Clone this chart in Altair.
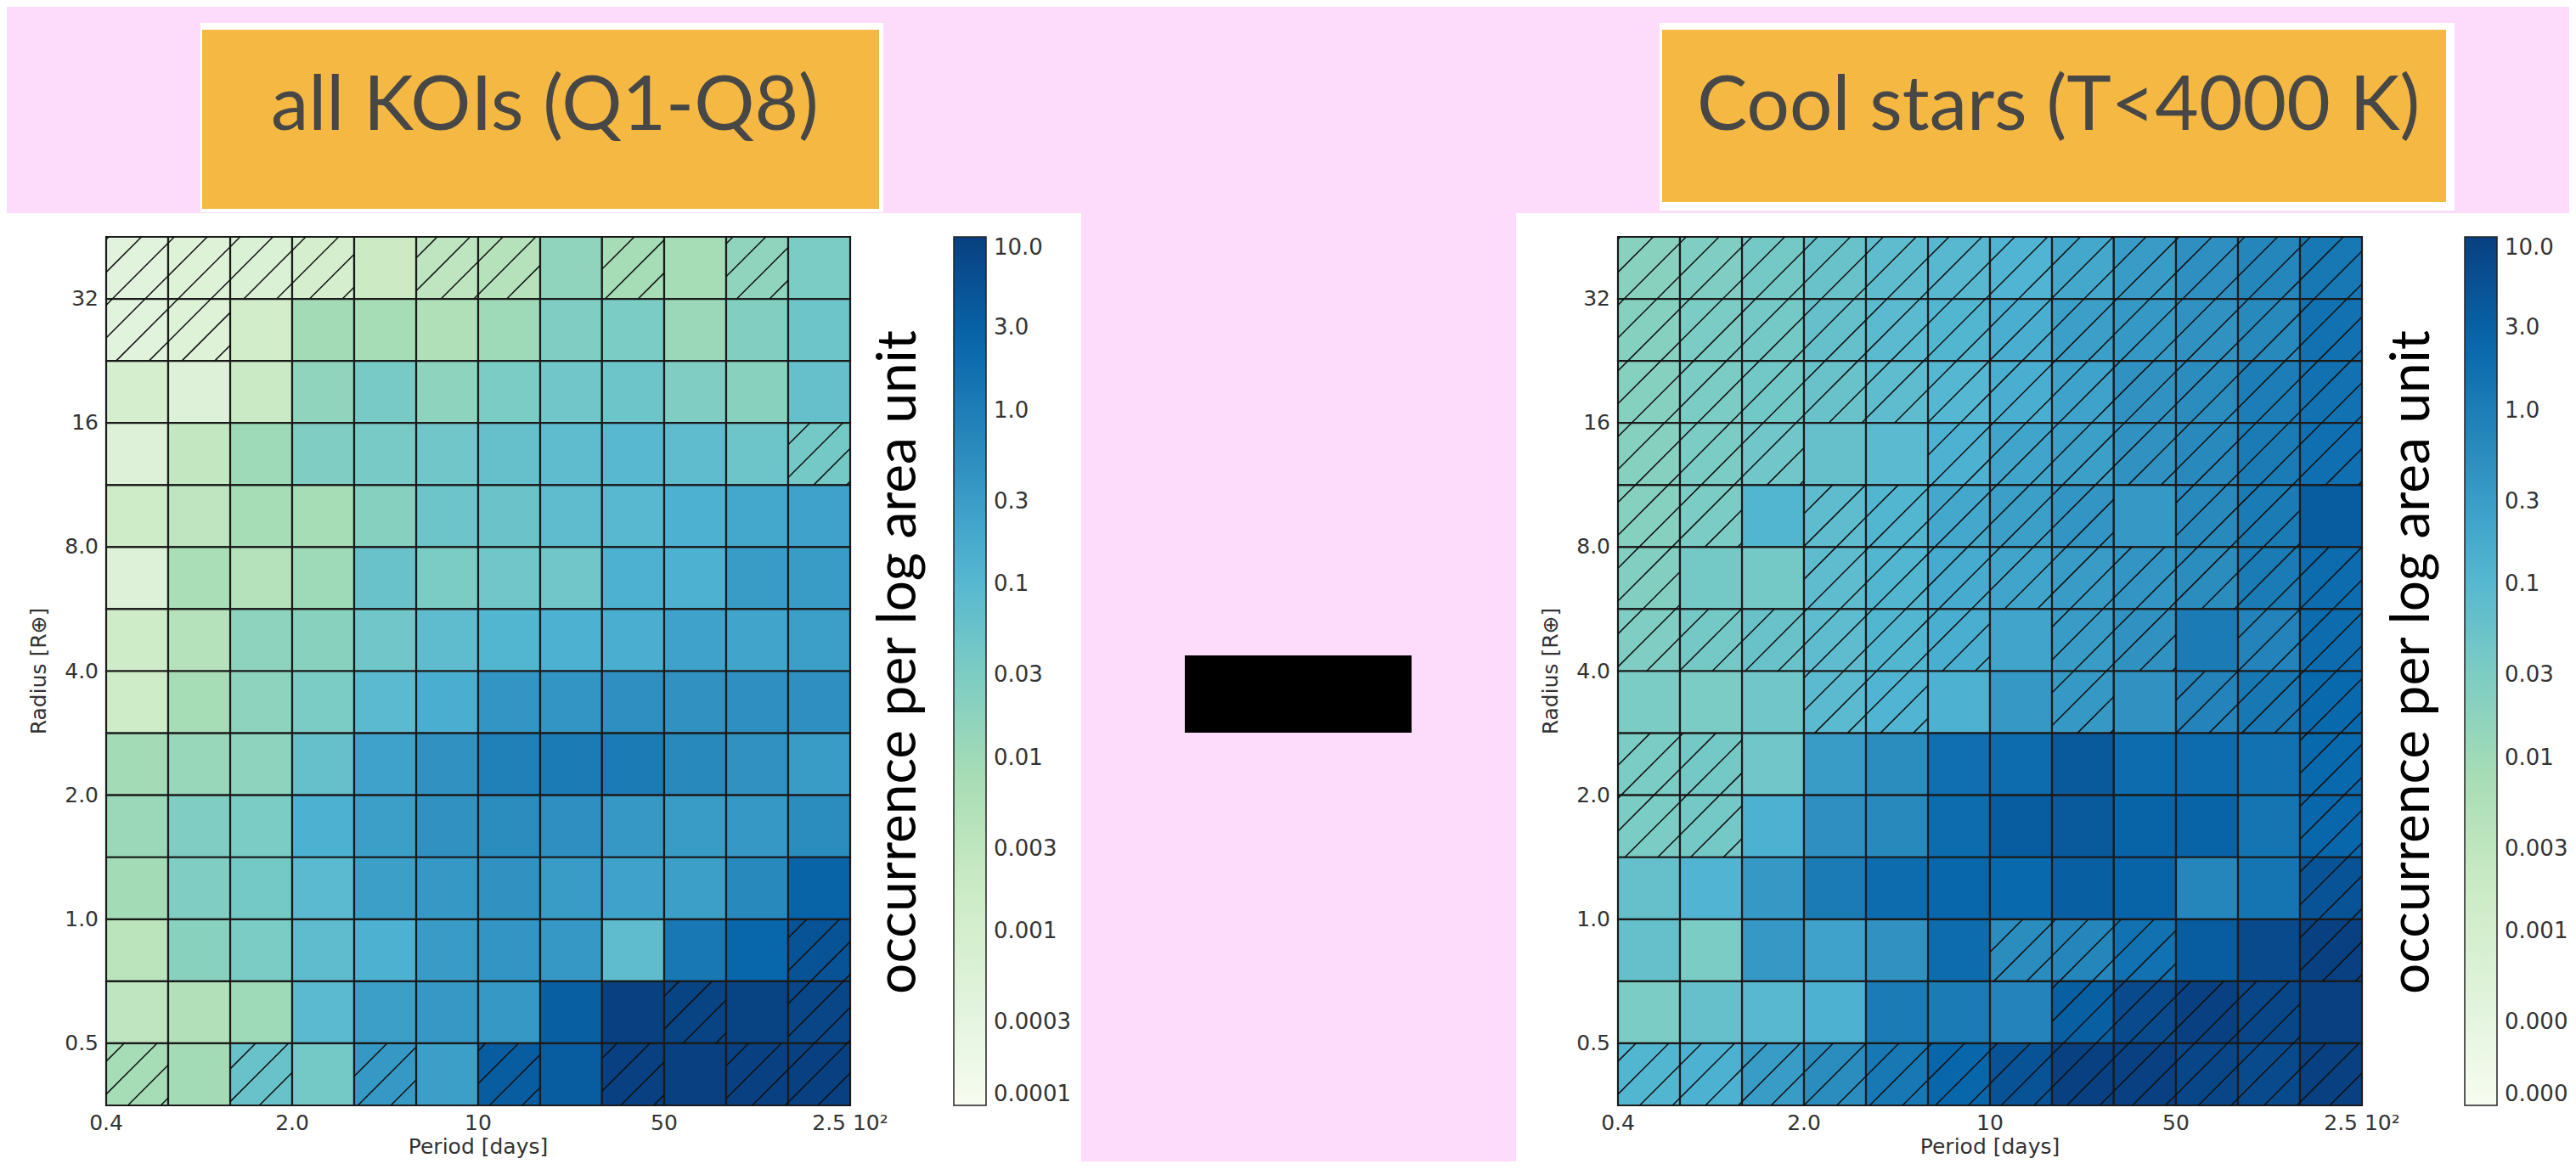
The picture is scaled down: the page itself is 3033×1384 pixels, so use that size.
import altair as alt
import numpy as np
import pandas as pd

# ---------------- data ----------------
TITLES = ["all KOIs (Q1-Q8)", "Cool stars (T<4000 K)"]
CBAR_LABEL = "occurrence per log area unit"
X_TITLE = "Period [days]"
Y_TITLE = "Radius [R\u2295]"

# bin edges: period 0.4 .. 250 d (12 bins, 3 per factor 5); radius 0.35 .. 45 (14 bins, 2 per factor 2)
PERIOD_EDGES = [0.4, 0.684, 1.17, 2.0, 3.42, 5.85, 10.0, 17.1, 29.2, 50.0, 85.5, 146.2, 250.0]
RADIUS_EDGES = [0.3536, 0.5, 0.7071, 1.0, 1.414, 2.0, 2.828, 4.0, 5.657, 8.0, 11.31, 16.0, 22.63, 32.0, 45.25]

PERIOD_TICKS = [0.4, 2.0, 10, 50, 250]
PERIOD_TICK_LABELS = ["0.4", "2.0", "10", "50", "2.5 10\u00b2"]
RADIUS_TICKS = [0.5, 1.0, 2.0, 4.0, 8.0, 16, 32]
RADIUS_TICK_LABELS = ["0.5", "1.0", "2.0", "4.0", "8.0", "16", "32"]
CBAR_TICKS = [0.0001, 0.0003, 0.001, 0.003, 0.01, 0.03, 0.1, 0.3, 1.0, 3.0, 10.0]

# log10(occurrence) per cell, rows from top (largest radius) to bottom, columns short -> long period
LEFT_LOG = [
    [-3.4, -3.3, -3.2, -3.0, -2.75, -2.5, -2.35, -1.8, -2.1, -2.1, -1.8, -1.5],
    [-3.4, -3.3, -2.9, -2.05, -2.1, -2.25, -2.0, -1.55, -1.5, -1.95, -1.6, -1.3],
    [-3.0, -3.25, -2.7, -1.8, -1.45, -1.75, -1.5, -1.35, -1.3, -1.55, -1.7, -1.2],
    [-3.25, -2.6, -2.0, -1.55, -1.45, -1.35, -1.2, -1.1, -1.0, -1.1, -1.3, -1.4],
    [-2.85, -2.5, -2.1, -2.1, -1.65, -1.3, -1.28, -1.1, -1.0, -0.85, -0.7, -0.6],
    [-3.25, -2.15, -2.35, -2.0, -1.25, -1.5, -1.35, -1.35, -0.85, -0.85, -0.5, -0.5],
    [-2.85, -2.35, -1.75, -1.7, -1.35, -1.1, -0.95, -0.85, -0.8, -0.6, -0.65, -0.55],
    [-2.85, -2.1, -1.75, -1.5, -1.05, -0.8, -0.4, -0.4, -0.3, -0.35, -0.3, -0.3],
    [-2.05, -1.9, -1.75, -1.2, -0.6, -0.35, -0.05, 0.05, 0.05, -0.2, -0.35, -0.5],
    [-1.95, -1.55, -1.5, -0.85, -0.55, -0.35, -0.25, -0.3, -0.45, -0.5, -0.45, -0.25],
    [-2.05, -1.55, -1.4, -1.05, -0.55, -0.45, -0.35, -0.5, -0.6, -0.55, -0.2, 0.45],
    [-2.45, -1.7, -1.5, -1.1, -0.85, -0.5, -0.4, -0.45, -1.1, 0.1, 0.4, 0.7],
    [-2.5, -2.3, -2.0, -1.05, -0.55, -0.45, -0.45, 0.5, 1.0, 0.95, 0.95, 0.9],
    [-2.1, -2.05, -1.25, -1.4, -0.45, -0.55, 0.55, 0.55, 1.0, 1.0, 1.0, 1.0],
]
LEFT_HATCH = [
    "111101101010", "110000000000", "000000000000", "000000000001",
    "000000000000", "000000000000", "000000000000", "000000000000",
    "000000000000", "000000000000", "000000000000", "000000000001",
    "000000000101", "101010101011",
]

RIGHT_LOG = [
    [-1.7, -1.55, -1.4, -1.25, -1.1, -1.0, -0.9, -0.7, -0.5, -0.3, -0.15, 0.1],
    [-1.65, -1.5, -1.4, -1.2, -1.05, -0.95, -0.8, -0.55, -0.45, -0.35, -0.2, 0.2],
    [-1.65, -1.5, -1.38, -1.25, -1.1, -0.97, -0.8, -0.6, -0.35, -0.25, 0.0, 0.2],
    [-1.65, -1.5, -1.35, -1.2, -1.05, -0.85, -0.65, -0.55, -0.35, -0.2, 0.05, 0.25],
    [-1.65, -1.5, -0.95, -1.1, -0.95, -0.7, -0.55, -0.4, -0.45, -0.2, 0.05, 0.55],
    [-1.6, -1.4, -1.4, -1.1, -0.95, -0.75, -0.65, -0.5, -0.4, -0.25, 0.05, 0.3],
    [-1.55, -1.4, -1.25, -1.1, -0.95, -0.8, -0.65, -0.5, -0.35, 0.05, -0.1, 0.3],
    [-1.5, -1.5, -1.35, -1.05, -0.9, -0.85, -0.45, -0.45, -0.35, -0.1, 0.1, 0.35],
    [-1.5, -1.4, -1.35, -0.5, -0.25, 0.25, 0.3, 0.6, 0.3, 0.3, 0.2, 0.35],
    [-1.5, -1.4, -0.85, -0.3, -0.2, 0.3, 0.55, 0.6, 0.45, 0.45, 0.15, 0.4],
    [-1.2, -0.9, -0.45, 0.05, 0.3, 0.4, 0.35, 0.5, 0.45, -0.15, 0.15, 0.7],
    [-1.2, -1.5, -0.45, -0.6, -0.35, 0.3, -0.25, -0.15, 0.2, 0.55, 0.85, 1.0],
    [-1.5, -1.2, -1.0, -0.85, 0.05, 0.05, -0.1, 0.5, 0.85, 1.0, 0.9, 1.0],
    [-0.95, -0.85, -0.5, -0.25, 0.1, 0.4, 0.7, 1.0, 1.0, 0.9, 0.85, 1.0],
]
RIGHT_HATCH = [
    "111111111111", "111111111111", "111111111111", "111001111111",
    "110111110110", "100111111111", "111111011011", "000110010111",
    "110000000001", "110000000001", "000000000001", "000000111001",
    "000000011110", "111111111111",
]

# ---------------- styling ----------------
PINK = "#FDDCFB"
ORANGE = "#F5B843"
GNBU = ["#f7fcf0", "#e0f3db", "#ccebc5", "#a8ddb5", "#7bccc4", "#4eb3d3", "#2b8cbe", "#0868ac", "#084081"]
GNBU_STOPS = [10 ** (-4 + 5 * k / 8) for k in range(9)]
AX_FONT = "DejaVu Sans"
TITLE_FONT = "Lato"
W, H = 3017, 1360
PLOT_TOP, PLOT_BOTTOM, PLOT_W = 271, 1294, 876
CBAR_W = 38

NR, NC = len(RADIUS_EDGES) - 1, len(PERIOD_EDGES) - 1


def cells(logv, hatch):
    rows = []
    for r in range(NR):
        j = NR - 1 - r
        for i in range(NC):
            rows.append(dict(p0=PERIOD_EDGES[i], p1=PERIOD_EDGES[i + 1],
                             r0=RADIUS_EDGES[j], r1=RADIUS_EDGES[j + 1],
                             occ=10 ** logv[r][i], hatched=hatch[r][i] == "1"))
    return pd.DataFrame(rows)


def lerp_log(e0, e1, f):
    return float(np.exp(np.log(e0) + f * (np.log(e1) - np.log(e0))))


def hatch_lines(hatch, h=0.53, phase=0.35):
    # 45-degree "/" hatch, continuous across cells (cells are square on screen)
    segs = []
    for r in range(NR):
        j = NR - 1 - r
        for i in range(NC):
            if hatch[r][i] != "1":
                continue
            kmin = int(np.floor((i - j - 1 - phase) / h)) - 2
            kmax = int(np.ceil((i - j + 1 - phase) / h)) + 2
            for k in range(kmin, kmax + 1):
                d = i - j - k * h - phase
                a0 = max(0.0, -d)
                a1 = min(1.0, 1 - d)
                if a1 - a0 < 1e-6:
                    continue
                b0, b1 = a0 + d, a1 + d
                p0, p1 = PERIOD_EDGES[i], PERIOD_EDGES[i + 1]
                q0, q1 = RADIUS_EDGES[j], RADIUS_EDGES[j + 1]
                segs.append(dict(xa=lerp_log(p0, p1, a0), xb=lerp_log(p0, p1, a1),
                                 ya=lerp_log(q0, q1, b0), yb=lerp_log(q0, q1, b1)))
    return pd.DataFrame(segs)


def panel(logv, hatch, x0, legend_x):
    xs = alt.Scale(type="log", domain=[PERIOD_EDGES[0], PERIOD_EDGES[-1]], range=[x0, x0 + PLOT_W], nice=False)
    ys = alt.Scale(type="log", domain=[RADIUS_EDGES[0], RADIUS_EDGES[-1]], range=[PLOT_BOTTOM, PLOT_TOP], nice=False)
    legend = alt.Legend(orient="none", legendX=legend_x, legendY=PLOT_TOP, direction="vertical",
                        gradientLength=PLOT_BOTTOM - PLOT_TOP, gradientThickness=CBAR_W, values=CBAR_TICKS,
                        labelExpr="datum.value >= 1 ? format(datum.value, '.1f') : format(datum.value, '~g')",
                        title=None, labelFont=AX_FONT, labelFontSize=26, labelColor="#333",
                        labelOffset=9, labelOverlap=False, gradientStrokeColor="#222",
                        gradientStrokeWidth=1.5)
    rect = alt.Chart(cells(logv, hatch)).mark_rect(stroke="#1a1a1a", strokeWidth=2.2).encode(
        x=alt.X("p0:Q", scale=xs, axis=None),
        x2="p1:Q",
        y=alt.Y("r0:Q", scale=ys, axis=None),
        y2="r1:Q",
        color=alt.Color("occ:Q", scale=alt.Scale(type="log", domain=GNBU_STOPS, range=GNBU,
                                                 interpolate="rgb"),
                        legend=legend),
    )
    lines = alt.Chart(hatch_lines(hatch)).mark_rule(color="#111", strokeWidth=1.5).encode(
        x=alt.X("xa:Q", scale=xs, axis=None),
        x2="xb:Q",
        y=alt.Y("ya:Q", scale=ys, axis=None),
        y2="yb:Q",
    )
    xticks = alt.Chart(pd.DataFrame({"v": PERIOD_TICKS, "t": PERIOD_TICK_LABELS})).mark_text(
        font=AX_FONT, fontSize=25, color="#333", baseline="top", align="center"
    ).encode(x=alt.X("v:Q", scale=xs, axis=None), y=alt.value(PLOT_BOTTOM + 9), text="t:N")
    yticks = alt.Chart(pd.DataFrame({"v": RADIUS_TICKS, "t": RADIUS_TICK_LABELS})).mark_text(
        font=AX_FONT, fontSize=25, color="#333", baseline="middle", align="right"
    ).encode(y=alt.Y("v:Q", scale=ys, axis=None), x=alt.value(x0 - 9), text="t:N")
    xtitle = alt.Chart(pd.DataFrame({"t": [X_TITLE]})).mark_text(
        font=AX_FONT, fontSize=25, color="#333", baseline="alphabetic", align="center"
    ).encode(x=alt.value(x0 + PLOT_W / 2), y=alt.value(H - 9), text="t:N")
    ytitle = alt.Chart(pd.DataFrame({"t": [Y_TITLE]})).mark_text(
        font=AX_FONT, fontSize=25, color="#333", baseline="alphabetic", align="center", angle=270
    ).encode(x=alt.value(x0 - 71), y=alt.value((PLOT_TOP + PLOT_BOTTOM) / 2), text="t:N")
    heat = alt.layer(rect, lines, xticks, yticks, xtitle, ytitle)
    # small tick marks on the inner right edge of the colorbar
    cb_ticks = alt.Chart(pd.DataFrame({"v": CBAR_TICKS[1:-1]})).mark_rule(color="#222", strokeWidth=2).encode(
        y=alt.Y("v:Q", scale=alt.Scale(type="log", domain=[CBAR_TICKS[0], CBAR_TICKS[-1]],
                                       range=[PLOT_BOTTOM, PLOT_TOP], nice=False), axis=None),
        x=alt.value(legend_x + CBAR_W - 9),
        x2=alt.value(legend_x + CBAR_W),
    )
    return alt.layer(heat, cb_ticks).resolve_scale(y="independent")


one = pd.DataFrame({"k": [0]})


def box(x, x2, y, y2, color):
    return alt.Chart(one).mark_rect(color=color).encode(
        x=alt.value(x), x2=alt.value(x2), y=alt.value(y), y2=alt.value(y2))


def label(text, x, y, **kw):
    return alt.Chart(pd.DataFrame({"t": [text]})).mark_text(**kw).encode(
        text="t:N", x=alt.value(x), y=alt.value(y))


decor = [
    box(0, 1265, 243, H, "white"),
    box(1777, W, 243, H, "white"),
    box(228, 1032, 19, 242, "white"),
    box(230, 1027, 27, 238, ORANGE),
    box(1946, 2882, 19, 240, "white"),
    box(1949, 2872, 27, 230, ORANGE),
    box(1387, 1654, 764, 855, "black"),
    label(TITLES[0], 311, 145, font=TITLE_FONT, fontSize=89, color="#474747", align="left", baseline="alphabetic"),
    label(TITLES[1], 1990, 145, font=TITLE_FONT, fontSize=89, color="#474747", align="left", baseline="alphabetic"),
    label(CBAR_LABEL, 1070, 772, font=TITLE_FONT, fontSize=64, color="black", angle=270, align="center", baseline="alphabetic"),
    label(CBAR_LABEL, 2852, 772, font=TITLE_FONT, fontSize=64, color="black", angle=270, align="center", baseline="alphabetic"),
]

left = panel(LEFT_LOG, LEFT_HATCH, 117, 1115)
right = panel(RIGHT_LOG, RIGHT_HATCH, 1897, 2894)

chart = alt.layer(*decor, left, right).resolve_scale(
    x="independent", y="independent", color="independent"
).resolve_legend(color="independent").properties(
    width=W, height=H, background=PINK, padding=0,
    autosize=alt.AutoSizeParams(type="none"),
).configure_view(strokeWidth=0)

chart.save("out.html", embed_options={"renderer": "svg", "actions": False})
